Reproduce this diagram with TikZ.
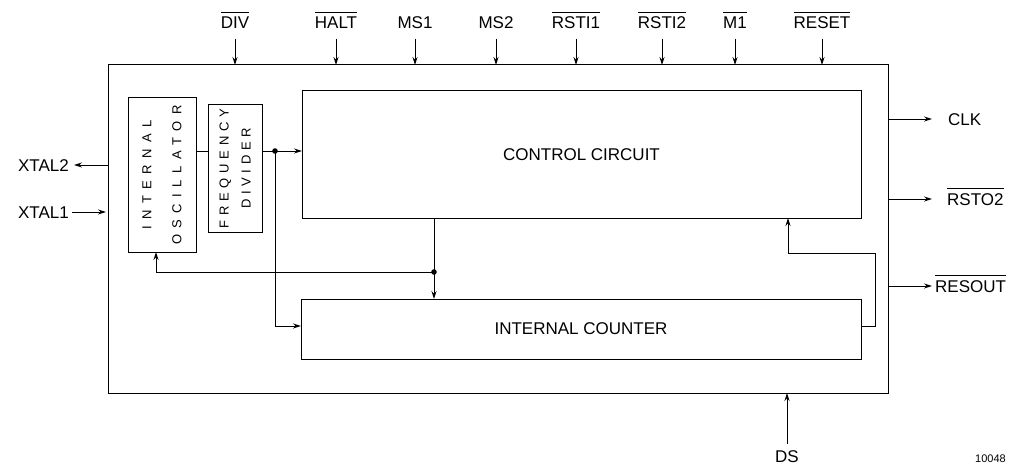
\documentclass[tikz,border=0pt]{standalone}
\usepackage{fontspec}
\setmainfont{Liberation Sans}
\usetikzlibrary{arrows.meta, positioning}
\newlength{\ovlwd}
\newcommand{\ovl}[1]{\settowidth{\ovlwd}{#1}\makebox[0pt][l]{\rule[16pt]{\ovlwd}{0.8pt}}#1}
\tikzset{
    box_block/.style={
        rectangle, draw=black, line width=1pt, inner sep=0pt, outer sep=0pt,
        align=center, font=\fontsize{17}{20}\selectfont
    },
    vert_lbl/.style={
        rotate=90, align=center, inner sep=0pt,
        font=\fontsize{13}{30}\selectfont\addfontfeature{LetterSpace=50}
    },
    sig_arrow/.style={
        -{Stealth[length=8pt, width=5pt]}, line width=0.9pt
    },
    sig_line/.style={line width=0.9pt},
    pin_lbl/.style={
        inner sep=0pt, text height=12.5pt, text depth=0pt,
        font=\fontsize{17}{20}\selectfont
    }
}

\begin{document}
\begin{tikzpicture}[x=1pt, y=-1pt]
    \useasboundingbox (0,0) rectangle (1011,465);

    % blocks
    \node[box_block, minimum width=780pt, minimum height=328pt] (chip) at (498,229) {};
    \node[box_block, minimum width=559pt, minimum height=127pt] (ctrl) at (581.5,154.5) {CONTROL CIRCUIT};
    \node[box_block, minimum width=560pt, minimum height=60pt] (cnt) at (581,329) {INTERNAL COUNTER};
    \node[box_block, minimum width=68pt, minimum height=154pt] (osc) at (162,175) {};
    \node[box_block, minimum width=54pt, minimum height=127pt] (fdiv) at (235,168.5) {};
    \node[vert_lbl] (osc_txt) at (osc) {INTERNAL\\OSCILLATOR};
    \node[vert_lbl, font=\fontsize{13}{22}\selectfont\addfontfeature{LetterSpace=36}] (fdiv_txt) at (fdiv) {FREQUENCY\\DIVIDER};

    % inputs on top
    \foreach \px/\pname/\ptext in {235/div/\ovl{DIV}, 336/halt/\ovl{HALT}, 415/ms1/MS1, 496/ms2/MS2,
                                   576/rsti1/\ovl{RSTI1}, 662/rsti2/\ovl{RSTI2}, 735/m1/\ovl{M1}, 822/reset/\ovl{RESET}}
    {
        \node[pin_lbl, anchor=south] (pin_\pname) at (\px,29) {\ptext};
        \draw[sig_arrow, shorten <=10pt] (pin_\pname.south) -- (pin_\pname.south |- chip.north);
    }

    % outputs on the right
    \node[pin_lbl, anchor=west] (out_clk) at (948,119) {CLK};
    \node[pin_lbl, anchor=west] (out_rsto) at (947,199) {\ovl{RSTO2}};
    \node[pin_lbl, anchor=west] (out_resout) at (935,286) {\ovl{RESOUT}};
    \draw[sig_arrow, shorten >=16pt] (chip.east |- out_clk.west) -- (out_clk.west);
    \draw[sig_arrow, shorten >=15pt] (chip.east |- out_rsto.west) -- (out_rsto.west);
    \draw[sig_arrow, shorten >=3pt] (chip.east |- out_resout.west) -- (out_resout.west);

    % crystal pins
    \node[pin_lbl, anchor=east] (xtal2) at (69,165) {XTAL2};
    \node[pin_lbl, anchor=east] (xtal1) at (69,212) {XTAL1};
    \draw[sig_arrow, shorten >=5pt] (chip.west |- xtal2.east) -- (xtal2.east);
    \draw[sig_arrow, shorten <=3pt, shorten >=2pt] (xtal1.east) -- (chip.west |- xtal1.east);

    % DS pin
    \node[pin_lbl] (ds) at (787,456) {DS};
    \draw[sig_arrow, shorten <=6pt] (ds.north) -- (ds.north |- chip.south);

    % internal wiring
    \coordinate (tap) at (275,151);
    \coordinate (fb) at (434,272);
    \coordinate (ret) at (875,253);
    \draw[sig_line] (osc.east |- tap) -- (fdiv.west |- tap);
    \draw[sig_arrow] (fdiv.east |- tap) -- (ctrl.west |- tap);
    \draw[sig_arrow] (tap) |- ([yshift=3pt]cnt.west);
    \fill (tap) circle (2.8pt);
    \draw[sig_arrow] (ctrl.south -| fb) -- (cnt.north -| fb);
    \draw[sig_arrow] (fb) -| ([xshift=-6pt]osc.south);
    \fill (fb) circle (2.8pt);
    \draw[sig_arrow] ([yshift=3pt]cnt.east) -| (ret) -| ([xshift=206.5pt]ctrl.south);

    \node[inner sep=0pt, anchor=west, font=\fontsize{11}{13}\selectfont] (fig_no) at (975,459) {10048};
\end{tikzpicture}
\end{document}
